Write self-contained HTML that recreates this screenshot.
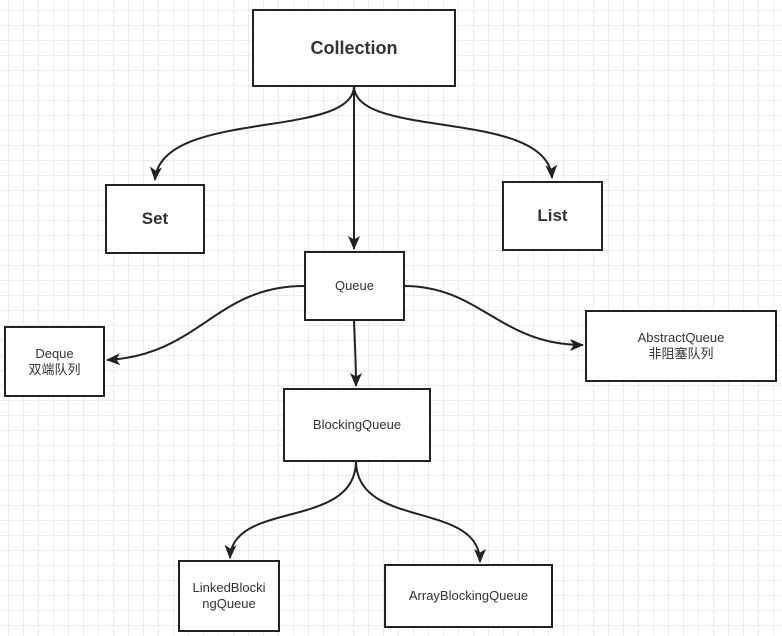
<!DOCTYPE html>
<html><head><meta charset="utf-8"><style>
body{margin:0;width:782px;height:636px;overflow:hidden;background:#fff;
background-image:linear-gradient(#ececec 1px,transparent 1px),linear-gradient(90deg,#ececec 1px,transparent 1px);
background-size:15px 15px;background-position:-7px -5px;font-family:"Liberation Sans","Noto Sans CJK SC",sans-serif;color:#333}
.b{position:absolute;box-sizing:border-box;border:2px solid #222;background:#fff;display:flex;align-items:center;justify-content:center;text-align:center;font-size:13px;line-height:16px}
.big{font-weight:bold;font-size:18px}
svg{position:absolute;left:0;top:0}
</style></head><body>
<svg width="782" height="636" viewBox="0 0 782 636">
<defs><marker id="a" markerWidth="16" markerHeight="14" refX="13" refY="6" orient="auto" markerUnits="userSpaceOnUse"><path d="M0,0 L14,6 L0,12 L3.5,6z" fill="#222"/></marker></defs>
<g fill="none" stroke="#222" stroke-width="2" marker-end="url(#a)">
<path d="M354 86 C354 140, 160 108, 155 180"/>
<path d="M354 86 C354 140, 548 108, 552 178"/>
<path d="M354 86 L354 249"/>
<path d="M304 286 C215 286, 200 355, 107 360"/>
<path d="M404 286 C480 286, 500 345, 583 345"/>
<path d="M354 320 C355 350, 356 360, 356 386"/>
<path d="M356 461 C356 530, 232 500, 230 558"/>
<path d="M356 461 C356 530, 480 500, 480 562"/>
</g></svg>
<div class="b big" style="left:252px;top:9px;width:204px;height:78px">Collection</div>
<div class="b big" style="left:105px;top:184px;width:100px;height:70px;font-size:17px">Set</div>
<div class="b big" style="left:502px;top:181px;width:101px;height:70px;font-size:17px">List</div>
<div class="b" style="left:304px;top:251px;width:101px;height:70px">Queue</div>
<div class="b" style="left:4px;top:326px;width:101px;height:71px">Deque<br>双端队列</div>
<div class="b" style="left:585px;top:310px;width:192px;height:72px">AbstractQueue<br>非阻塞队列</div>
<div class="b" style="left:283px;top:388px;width:148px;height:74px">BlockingQueue</div>
<div class="b" style="left:178px;top:560px;width:102px;height:72px">LinkedBlocki<br>ngQueue</div>
<div class="b" style="left:384px;top:564px;width:169px;height:64px">ArrayBlockingQueue</div>
</body></html>
